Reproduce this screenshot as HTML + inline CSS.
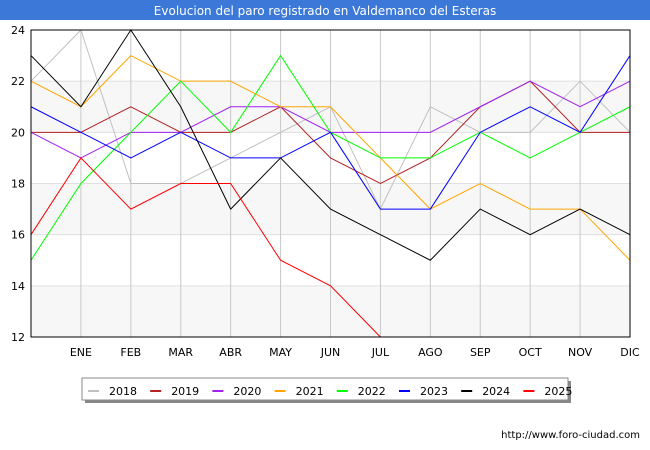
<!DOCTYPE html>
<html><head><meta charset="utf-8"><style>
body{margin:0;background:#fff;font-family:"Liberation Sans","DejaVu Sans",sans-serif}
svg{display:block}
</style></head><body>
<svg id="chart" width="650" height="450" xmlns="http://www.w3.org/2000/svg">
<rect x="0" y="0" width="650" height="450" fill="#fff"/>
<rect x="0" y="0" width="650" height="20" fill="#3b78d8"/>
<text x="325" y="15" text-anchor="middle" font-size="12" fill="#fff" font-family="DejaVu Sans, sans-serif">Evolucion del paro registrado en Valdemanco del Esteras</text>
<g id="plot"></g>
<text x="640" y="438" text-anchor="end" font-size="10" fill="#000" font-family="DejaVu Sans, sans-serif">http://www.foro-ciudad.com</text>
</svg>
<script>
const months=["","ENE","FEB","MAR","ABR","MAY","JUN","JUL","AGO","SEP","OCT","NOV","DIC"];
const yTicks=[12,14,16,18,20,22,24];
const years=["2018","2019","2020","2021","2022","2023","2024","2025"];
const colors=["#c0c0c0","#b22222","#a020f0","#ffa500","#00ff00","#0000ff","#000000","#ff0000"];
const s2018=[22,24,18,18,19,20,21,17,21,20,20,22,20];
const s2019=[20,20,21,20,20,21,19,18,19,21,22,20,20];
const s2020=[20,19,20,20,21,21,20,20,20,21,22,21,22];
const s2021=[22,21,23,22,22,21,21,19,17,18,17,17,15];
const s2022=[15,18,20,22,20,23,20,19,19,20,19,20,21];
const s2023=[21,20,19,20,19,19,20,17,17,20,21,20,23];
const s2024=[23,21,24,21,17,19,17,16,15,17,16,17,16];
const s2025=[16,19,17,18,18,15,14,12];
const series=[s2018,s2019,s2020,s2021,s2022,s2023,s2024,s2025];
const X0=31,X1=630,Y0=337,Y1=30;
const xs=i=>X0+(X1-X0)*i/12;
const ys=v=>Y0-(v-12)/(24-12)*(Y0-Y1);
const NS="http://www.w3.org/2000/svg";
const g=document.getElementById('plot');
function mk(t,a,p){const e=document.createElementNS(NS,t);for(const k in a)e.setAttribute(k,a[k]);(p||g).appendChild(e);return e;}
// bands
for(let v=12;v<24;v+=2){if((v/2)%2===0){const b=mk('rect',{x:X0,y:ys(v+2),width:X1-X0,height:ys(v)-ys(v+2),fill:'#f7f7f7'});

}}
yTicks.forEach(v=>{const l=mk('line',{x1:X0,x2:X1,y1:ys(v),y2:ys(v),stroke:'#e0e0e0'});


const t=mk('text',{x:X0-6,y:ys(v)+4,'text-anchor':'end','font-size':11,'font-family':'DejaVu Sans, sans-serif'});t.textContent=v;

});
months.forEach((m,i)=>{if(i>0){const l=mk('line',{x1:xs(i),x2:xs(i),y1:Y1,y2:Y0,stroke:'#c8c8c8'});


const t=mk('text',{x:xs(i),y:356,'text-anchor':'middle','font-size':11,'font-family':'DejaVu Sans, sans-serif'});t.textContent=m;

}});
series.forEach((s,k)=>{const p=mk('polyline',{points:s.map((v,i)=>xs(i)+','+ys(v)).join(' '),fill:'none',stroke:colors[k],'stroke-width':1});

});
const fr=mk('rect',{x:X0,y:Y1,width:X1-X0,height:Y0-Y1,fill:'none',stroke:'#000'});


// legend
const lg=mk('g',{});


mk('rect',{x:85,y:381,width:486,height:22,fill:'#888'},lg);
mk('rect',{x:82,y:378,width:486,height:22,fill:'#fff',stroke:'#888'},lg);
years.forEach((y,k)=>{const x=88+k*62.2;
const e=mk('g',{},lg);


mk('line',{x1:x,x2:x+11,y1:391,y2:391,stroke:colors[k],'stroke-width':2},e);
const t=mk('text',{x:x+21,y:395,'font-size':11,'font-family':'DejaVu Sans, sans-serif'},e);t.textContent=y;});
</script>
</body></html>
